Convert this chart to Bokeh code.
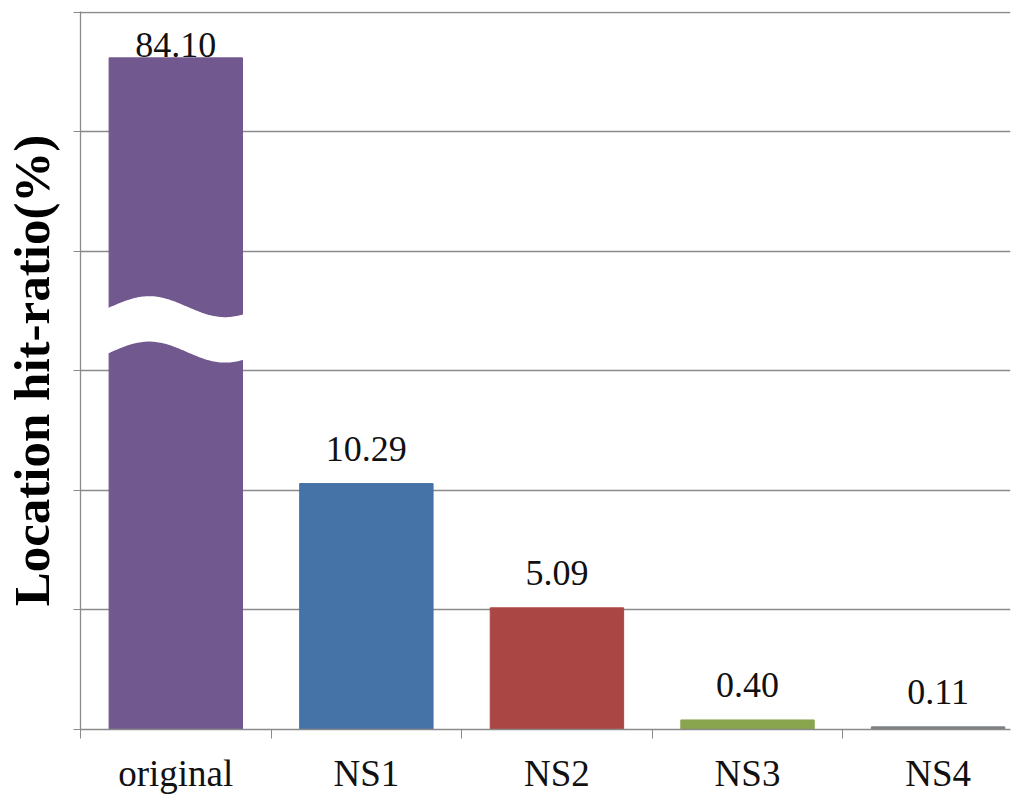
import numpy as np
from bokeh.plotting import figure
from bokeh.models import Range1d, FixedTicker, ColumnDataSource
from bokeh.core.properties import value
from bokeh.embed import file_html
from bokeh.resources import INLINE

categories = ["original", "NS1", "NS2", "NS3", "NS4"]
values = [84.10, 10.29, 5.09, 0.40, 0.11]
colors = ["#71588F", "#4572A7", "#AA4643", "#89A54E", "#7C7F84"]
axis_cap = 28.1          # displayed height of the broken (original) bar
break_center = 16.74     # where the axis-break wave sits on the broken bar
grid_ticks = [0, 5, 10, 15, 20, 25, 30]

SERIF = "Liberation Serif"

xs = [i + 0.5 for i in range(len(categories))]
shown = [min(v, axis_cap) for v in values]
labels = ["%.2f" % v for v in values]
offsets = [-1 if v > axis_cap else -23 for v in values]

p = figure(width=1016, height=796, output_backend="svg", toolbar_location=None,
           x_range=Range1d(0, 4.88), y_range=Range1d(0, 30.04),
           min_border_left=78, min_border_right=6, min_border_top=11, min_border_bottom=67)
p.outline_line_color = None
p.background_fill_color = "white"

src = ColumnDataSource(dict(x=xs, top=shown, color=colors, label=labels, off=offsets))
p.vbar(x="x", top="top", width=0.7, bottom=0, color="color", source=src)

# axis-break wave across the broken bar
bi = [i for i, v in enumerate(values) if v > axis_cap]
for i in bi:
    t = np.linspace(-0.04, 1.04, 90)
    wx = xs[i] - 0.35 + 0.7 * t
    amp = 0.44
    wave = amp * np.cos(2 * np.pi * (t - 0.3) / 1.14)
    top_edge = break_center + 0.95 + wave
    bot_edge = break_center - 0.95 + wave
    px = np.concatenate([wx, wx[::-1]])
    py = np.concatenate([top_edge, bot_edge[::-1]])
    p.patch(px, py, fill_color="white", line_color=None)

p.text(x="x", y="top", text="label", source=src, text_align="center",
       text_baseline="bottom", y_offset="off", text_font=value(SERIF),
       text_font_size="36px", text_color="#111111")

# grid
p.xgrid.visible = False
p.ygrid.ticker = FixedTicker(ticks=grid_ticks)
p.ygrid.grid_line_color = "#8a8a8a"
p.ygrid.grid_line_width = 1.3

# y axis
p.yaxis.ticker = FixedTicker(ticks=grid_ticks)
p.yaxis.major_label_overrides = {t: "" for t in grid_ticks}
p.yaxis.major_label_standoff = 0
p.yaxis.major_tick_out = 7
p.yaxis.major_tick_in = 0
p.yaxis.minor_tick_line_color = None
p.yaxis.axis_line_color = "#8a8a8a"
p.yaxis.major_tick_line_color = "#8a8a8a"
p.yaxis.axis_line_width = 1.3
p.yaxis.axis_label = "Location hit-ratio(%)"
p.yaxis.axis_label_text_font = SERIF
p.yaxis.axis_label_text_font_style = "bold"
p.yaxis.axis_label_text_font_size = "51px"
p.yaxis.axis_label_text_color = "black"
p.yaxis.axis_label_standoff = 14

# x axis
p.xaxis.ticker = FixedTicker(ticks=xs, minor_ticks=list(range(len(categories))))
p.xaxis.major_label_overrides = {x: c for x, c in zip(xs, categories)}
p.xaxis.major_tick_line_color = None
p.xaxis.major_tick_out = 0
p.xaxis.major_tick_in = 0
p.xaxis.minor_tick_out = 9
p.xaxis.minor_tick_in = 0
p.xaxis.minor_tick_line_color = "#8a8a8a"
p.xaxis.axis_line_color = "#8a8a8a"
p.xaxis.axis_line_width = 1.3
p.xaxis.major_label_text_font = SERIF
p.xaxis.major_label_text_font_size = "37px"
p.xaxis.major_label_text_color = "#111111"
p.xaxis.major_label_standoff = 14

open("out.html", "w").write(file_html(p, INLINE))
